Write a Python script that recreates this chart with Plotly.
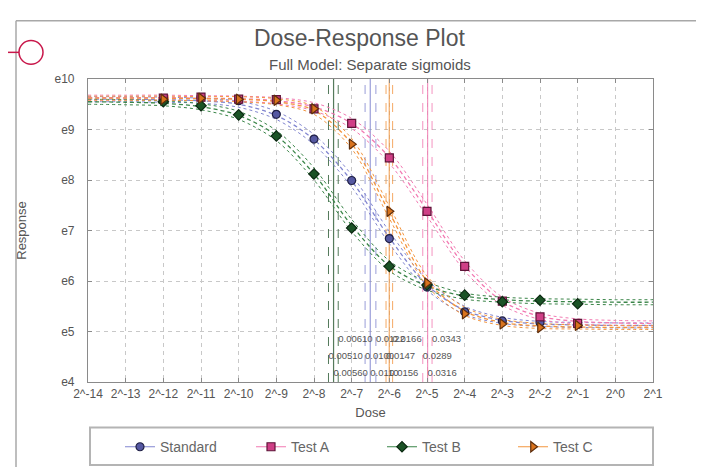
import math
import plotly.graph_objects as go

# ---------------- data ----------------
series_names = ["Standard", "Test A", "Test B", "Test C"]

# measured doses, as powers of two
dose_exp = [-12, -11, -10, -9, -8, -7, -6, -5, -4, -3, -2, -1]
# measured responses, log10 (e.g. 9.6 -> 4e9)
std_resp = [9.59, 9.63, 9.57, 9.30, 8.81, 7.99, 6.84, 5.88, 5.39, 5.21, 5.18, 5.14]
a_resp = [9.62, 9.64, 9.60, 9.59, 9.41, 9.12, 8.44, 7.38, 6.29, 5.60, 5.29, 5.16]
b_resp = [9.55, 9.47, 9.29, 8.87, 8.12, 7.05, 6.29, 5.92, 5.72, 5.59, 5.62, 5.55]
c_resp = [9.60, 9.62, 9.60, 9.58, 9.41, 8.71, 7.38, 5.96, 5.35, 5.15, 5.08, 5.12]

# fitted sigmoid curves at each power of two
curve_exp = [-14, -13, -12, -11, -10, -9, -8, -7, -6, -5, -4, -3, -2, -1, 0, 1]
std_fit = [9.60, 9.60, 9.59, 9.57, 9.50, 9.28, 8.80, 7.98, 6.86, 5.92, 5.42, 5.22, 5.15, 5.13, 5.12, 5.12]
a_fit = [9.63, 9.63, 9.63, 9.62, 9.61, 9.57, 9.45, 9.12, 8.45, 7.40, 6.30, 5.60, 5.30, 5.20, 5.17, 5.16]
b_fit = [9.55, 9.54, 9.52, 9.45, 9.28, 8.88, 8.12, 7.10, 6.30, 5.90, 5.70, 5.63, 5.60, 5.59, 5.58, 5.58]
c_fit = [9.62, 9.62, 9.62, 9.61, 9.60, 9.55, 9.38, 8.72, 7.36, 6.00, 5.40, 5.18, 5.11, 5.09, 5.08, 5.08]
# half width of the dashed confidence band around each curve (decades)
std_band = [0.05, 0.05, 0.05, 0.05, 0.06, 0.08, 0.10, 0.12, 0.12, 0.10, 0.08, 0.06, 0.05, 0.05, 0.05, 0.05]
a_band = [0.05, 0.05, 0.05, 0.05, 0.05, 0.06, 0.08, 0.10, 0.12, 0.12, 0.10, 0.08, 0.06, 0.05, 0.05, 0.05]
b_band = [0.05, 0.05, 0.05, 0.06, 0.08, 0.10, 0.12, 0.12, 0.10, 0.08, 0.06, 0.05, 0.05, 0.05, 0.05, 0.05]
c_band = [0.04, 0.04, 0.04, 0.04, 0.05, 0.06, 0.08, 0.10, 0.12, 0.10, 0.08, 0.06, 0.05, 0.04, 0.04, 0.04]

# EC50 estimates with confidence limits
ec50_est = [0.0110, 0.0316, 0.00560, 0.0156]
ec50_low = [0.0100, 0.0289, 0.00510, 0.0147]
ec50_high = [0.0122, 0.0343, 0.00610, 0.0166]
ec50_est_txt = ["0.0110", "0.0316", "0.00560", "0.0156"]
ec50_low_txt = ["0.0100", "0.0289", "0.00510", "0.0147"]
ec50_high_txt = ["0.0122", "0.0343", "0.00610", "0.0166"]

x_tick_exp = [-14, -13, -12, -11, -10, -9, -8, -7, -6, -5, -4, -3, -2, -1, 0, 1]
x_tick_text = ["2^-14", "2^-13", "2^-12", "2^-11", "2^-10", "2^-9", "2^-8", "2^-7",
               "2^-6", "2^-5", "2^-4", "2^-3", "2^-2", "2^-1", "2^0", "2^1"]
y_tick_exp = [4, 5, 6, 7, 8, 9, 10]
y_tick_text = ["e4", "e5", "e6", "e7", "e8", "e9", "e10"]

# ---------------- styles ----------------
line_colors = ["#8286d0", "#f27ab2", "#3a8548", "#f3963f"]
marker_fill = ["#5558a2", "#cf3f86", "#1b5326", "#d9731d"]
marker_edge = ["#202045", "#5e1438", "#0c2a12", "#5e2e0c"]
marker_sym = ["circle", "square", "diamond", "triangle-right"]
marker_size = [8, 8, 8, 9]

resp = [std_resp, a_resp, b_resp, c_resp]
fits = [std_fit, a_fit, b_fit, c_fit]
bands = [std_band, a_band, b_band, c_band]

doses = [2.0 ** e for e in dose_exp]
cdoses = [2.0 ** e for e in curve_exp]

L, R, T, B = 80, 59, 71, 89
W, H = 704, 467
pw, ph = W - L - R, H - T - B


def px(xp):
    return (xp - L) / pw


def py(yp):
    return (H - B - yp) / ph


fig = go.Figure()

# vertical EC50 lines
for i in range(4):
    for val, dash, wdt in ((ec50_low[i], "dash", 1), (ec50_high[i], "dash", 1), (ec50_est[i], "solid", 1.2)):
        fig.add_trace(go.Scatter(x=[val, val], y=[1e4, 1e10], mode="lines",
                                 line=dict(color=line_colors[i] if i != 2 else "#2a5a33", width=wdt, dash=dash),
                                 opacity=0.8, showlegend=False, hoverinfo="skip"))

# confidence bands and fitted curves
for i in range(4):
    up = [10 ** (f + b) for f, b in zip(fits[i], bands[i])]
    lo = [10 ** (f - b) for f, b in zip(fits[i], bands[i])]
    for arr in (up, lo):
        fig.add_trace(go.Scatter(x=cdoses, y=arr, mode="lines",
                                 line=dict(color=line_colors[i], width=1, dash="dot", shape="spline", smoothing=0.9),
                                 showlegend=False, hoverinfo="skip"))
    fig.add_trace(go.Scatter(x=cdoses, y=[10 ** f for f in fits[i]], mode="lines",
                             line=dict(color=line_colors[i], width=1.3, dash="4px,3px", shape="spline", smoothing=0.9),
                             showlegend=False, hoverinfo="skip"))

# data points (legend entries)
for i in range(4):
    fig.add_trace(go.Scatter(x=doses, y=[10 ** v for v in resp[i]], mode="markers",
                             name=series_names[i],
                             marker=dict(symbol=marker_sym[i], size=marker_size[i], color=marker_fill[i],
                                         line=dict(color=marker_edge[i], width=1.2)),
                             showlegend=False))
    # legend proxy with line + marker
    fig.add_trace(go.Scatter(x=[None], y=[None], mode="lines+markers", name=series_names[i],
                             line=dict(color=line_colors[i], width=1.2),
                             marker=dict(symbol=marker_sym[i], size=marker_size[i], color=marker_fill[i],
                                         line=dict(color=marker_edge[i], width=1.2))))

# EC50 value labels (three rows: upper, lower, estimate)
row_levels = [10 ** 4.83, 10 ** 4.50, 10 ** 4.17]
for vals, txts, lev in ((ec50_high, ec50_high_txt, row_levels[0]),
                        (ec50_low, ec50_low_txt, row_levels[1]),
                        (ec50_est, ec50_est_txt, row_levels[2])):
    fig.add_trace(go.Scatter(x=vals, y=[lev] * len(vals), mode="text", text=txts,
                             textposition="middle right",
                             textfont=dict(size=9.5, color="#555555", family="Liberation Sans, Arial"),
                             showlegend=False, hoverinfo="skip"))

shapes = [
    # outer frame
    dict(type="line", xref="paper", yref="paper", x0=px(8), x1=px(704), y0=py(12), y1=py(12),
         line=dict(color="#a8a8a8", width=1.5)),
    dict(type="line", xref="paper", yref="paper", x0=px(8), x1=px(8), y0=py(12), y1=py(467),
         line=dict(color="#a8a8a8", width=1.5)),
    # legend box
    dict(type="rect", xref="paper", yref="paper", x0=px(82), x1=px(645), y0=py(424), y1=py(462),
         line=dict(color="#b4b4b4", width=2), fillcolor="rgba(0,0,0,0)"),
    # red callout
    dict(type="line", xref="paper", yref="paper", x0=px(0), x1=px(11), y0=py(44), y1=py(44),
         line=dict(color="#c8174a", width=1.5)),
    dict(type="circle", xref="paper", yref="paper", x0=px(11), x1=px(35), y0=py(56), y1=py(32),
         line=dict(color="#c8174a", width=1.5), fillcolor="rgba(0,0,0,0)"),
]

axis_common = dict(showline=True, linecolor="#8a8a8a", linewidth=1.2, mirror="ticks",
                   ticks="inside", ticklen=4, tickcolor="#8a8a8a",
                   showgrid=True, gridcolor="#c8c8c8", griddash="4px,4px", gridwidth=1,
                   zeroline=False, tickfont=dict(size=12, color="#555555"))

fig.update_layout(
    width=W, height=H,
    margin=dict(l=L, r=R, t=T, b=B),
    paper_bgcolor="white", plot_bgcolor="white",
    font=dict(family="Liberation Sans, Arial, sans-serif", color="#555555"),
    title=dict(text="Dose-Response Plot", x=px(362), xanchor="center", y=1 - 30 / H, yanchor="middle",
               font=dict(size=23, color="#555555")),
    annotations=[dict(text="Full Model: Separate sigmoids", xref="paper", yref="paper",
                      x=px(362), y=py(56), xanchor="center", yanchor="middle", showarrow=False,
                      font=dict(size=15, color="#555555"))],
    xaxis=dict(type="log", range=[math.log10(2.0 ** -14), math.log10(2.0 ** 1)],
               tickvals=[2.0 ** e for e in x_tick_exp], ticktext=x_tick_text,
               title=dict(text="Dose", font=dict(size=13, color="#555555"), standoff=8),
               **axis_common),
    yaxis=dict(type="log", range=[4, 10],
               tickvals=[10.0 ** e for e in y_tick_exp], ticktext=y_tick_text,
               title=dict(text="Response", font=dict(size=13, color="#555555"), standoff=24),
               ticklabelstandoff=10,
               **axis_common),
    showlegend=True,
    legend=dict(orientation="h", x=px(112), xanchor="left", y=py(444), yanchor="middle",
                entrywidth=86, bgcolor="rgba(0,0,0,0)", borderwidth=0,
                font=dict(size=14, color="#666666")),
    shapes=shapes,
)

fig.write_html("out.html")
